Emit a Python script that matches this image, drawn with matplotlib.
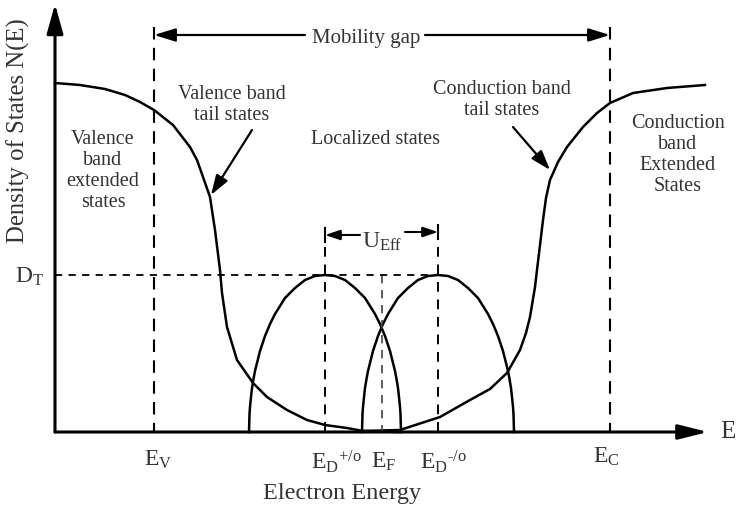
import matplotlib.pyplot as plt

plt.rcParams['font.family'] = ['Liberation Serif', 'DejaVu Serif']
plt.rcParams['mathtext.fontset'] = 'custom'
plt.rcParams['mathtext.rm'] = 'Liberation Serif'
plt.rcParams['mathtext.it'] = 'Liberation Serif:italic'

# energy axis in arbitrary units, density of states in arbitrary units
valence_x = [0, 25, 50, 70, 85, 99, 118, 135, 142, 148, 155, 160, 165, 167,
             172, 182, 198, 212, 232, 252, 270, 292, 308, 345]
valence_y = [349, 347, 343, 337, 330, 322, 307, 285, 272, 255, 235, 202, 162, 139,
             105, 72, 49, 35, 22, 12, 7, 4, 1, 0]

conduction_x = [307, 345, 385, 415, 435, 452, 465, 471, 475, 480, 482, 485, 488,
                491, 495, 503, 512, 528, 542, 555, 578, 612, 650]
conduction_y = [1, 2, 15, 32, 43, 59, 82, 99, 115, 145, 162, 187, 212,
                234, 252, 270, 285, 305, 319, 329, 339, 344, 347]

# defect state bands (offsets from their peak energy)
defect_dx = [-76, -75.5, -75, -74, -73, -71.5, -70, -67.5, -65, -60, -55, -50, -40, -30,
             -20, -10, 0, 10, 20, 30, 40, 50, 55, 60, 65, 67.5, 70, 71.5, 73, 74, 75,
             75.5, 76]
defect_y = [0, 18, 25, 35, 44, 53, 61, 71, 81, 96, 108, 118, 134, 144,
            152, 156, 157, 156, 152, 144, 134, 118, 108, 96, 81, 71, 61, 53, 44, 35, 25,
            18, 0]

E_V = 99
E_D_plus = 270
E_F = 327
E_D_minus = 383
E_C = 555
D_T = 157

TXT = '#333333'

fig = plt.figure(figsize=(7.37, 5.12), dpi=100)
ax = fig.add_axes([0, 0, 1, 1])
ax.set_xlim(-55, 682)
ax.set_ylim(-80, 432)
ax.axis('off')

# curves
ax.plot(valence_x, valence_y, color='k', lw=1.8, solid_joinstyle='round')
ax.plot(conduction_x, conduction_y, color='k', lw=1.8, solid_joinstyle='round')
ax.plot([E_D_plus + d for d in defect_dx], defect_y, color='k', lw=1.8,
        solid_joinstyle='round')
ax.plot([E_D_minus + d for d in defect_dx], defect_y, color='k', lw=1.8,
        solid_joinstyle='round')

# dashed guides
dash_long = (0, (6, 4))
ax.plot([E_V, E_V], [405, 0], color='k', lw=1.5, linestyle=dash_long)
ax.plot([E_C, E_C], [405, 0], color='k', lw=1.5, linestyle=dash_long)
ax.plot([E_D_plus, E_D_plus], [185, 0], color='k', lw=1.4, linestyle=(0, (5, 4)))
ax.plot([E_D_minus, E_D_minus], [185, 0], color='k', lw=1.4, linestyle=(0, (5, 4)))
ax.plot([E_F, E_F], [D_T, 0], color='#444444', lw=1.2, linestyle=(0, (5, 4)))
ax.plot([0, E_D_minus], [D_T, D_T], color='k', lw=1.3, linestyle=(0, (4, 3.5)))

# axes with arrows
ax.annotate('', xy=(0, 428), xytext=(0, 0),
            arrowprops=dict(arrowstyle='-|>,head_length=1.8,head_width=0.5',
                            color='k', lw=2.2, shrinkA=0, shrinkB=0))
ax.annotate('', xy=(653, 0), xytext=(0, 0),
            arrowprops=dict(arrowstyle='-|>,head_length=1.8,head_width=0.45',
                            color='k', lw=2.2, shrinkA=0, shrinkB=0))

# mobility gap arrows
ax.annotate('', xy=(E_V, 397), xytext=(250, 397),
            arrowprops=dict(arrowstyle='-|>,head_length=1.3,head_width=0.4',
                            color='k', lw=1.6, shrinkA=0, shrinkB=0))
ax.annotate('', xy=(E_C, 397), xytext=(370, 397),
            arrowprops=dict(arrowstyle='-|>,head_length=1.3,head_width=0.4',
                            color='k', lw=1.6, shrinkA=0, shrinkB=0))
ax.text(311, 393, 'Mobility gap', fontsize=15, color=TXT, ha='center', va='center')

# U_Eff arrows
ax.annotate('', xy=(E_D_plus, 197), xytext=(305, 197),
            arrowprops=dict(arrowstyle='-|>,head_length=0.9,head_width=0.3',
                            color='k', lw=1.5, shrinkA=0, shrinkB=0))
ax.annotate('', xy=(E_D_minus, 200), xytext=(350, 200),
            arrowprops=dict(arrowstyle='-|>,head_length=0.9,head_width=0.3',
                            color='k', lw=1.5, shrinkA=0, shrinkB=0))
ax.plot([E_D_plus, E_D_plus], [190, 204], color='k', lw=1.5)
ax.plot([E_D_minus, E_D_minus], [193, 207], color='k', lw=1.5)
ax.text(327, 190, r'U$_{\mathrm{Eff}}$', fontsize=17, color=TXT, ha='center', va='center')

# region labels
ax.text(177, 327, 'Valence band\ntail states', fontsize=14.5, color=TXT,
        ha='center', va='center', linespacing=1.15)
ax.annotate('', xy=(156, 237), xytext=(197, 302),
            arrowprops=dict(arrowstyle='-|>,head_length=1.2,head_width=0.4',
                            color='k', lw=1.6, shrinkA=0, shrinkB=0))
ax.text(48, 261, 'Valence\nband\nextended\nstates', fontsize=14.5, color=TXT,
        ha='center', va='center', linespacing=1.15)
ax.text(321, 292, 'Localized states', fontsize=14.5, color=TXT, ha='center', va='center')
ax.text(447, 332, 'Conduction band\ntail states', fontsize=14.5, color=TXT,
        ha='center', va='center', linespacing=1.15)
ax.annotate('', xy=(495, 262), xytext=(458, 305),
            arrowprops=dict(arrowstyle='-|>,head_length=1.2,head_width=0.4',
                            color='k', lw=1.6, shrinkA=0, shrinkB=0))
ax.text(623, 277, 'Conduction\nband\nExtended\nStates', fontsize=14.5, color=TXT,
        ha='center', va='center', linespacing=1.15)

# axis labels
ax.text(-37, 301, 'Density of States N(E)', fontsize=17.8, color=TXT, rotation=90,
        ha='center', va='center')
ax.text(-25, 155, r'D$_{\mathrm{T}}$', fontsize=17, color=TXT, ha='center', va='center')
ax.text(673, 0, 'E', fontsize=18, color=TXT, ha='center', va='center')
ax.text(103, -28, r'E$_{\mathrm{V}}$', fontsize=17, color=TXT, ha='center', va='center')
ax.text(281, -30, r'E$_{\mathrm{D}}{}^{\text{+/o}}$', fontsize=17, color=TXT,
        ha='center', va='center')
ax.text(329, -30, r'E$_{\mathrm{F}}$', fontsize=17, color=TXT, ha='center', va='center')
ax.text(389, -30, r'E$_{\mathrm{D}}{}^{\text{-/o}}$', fontsize=17, color=TXT,
        ha='center', va='center')
ax.text(551, -25, r'E$_{\mathrm{C}}$', fontsize=17, color=TXT, ha='center', va='center')
ax.text(287, -62, 'Electron Energy', fontsize=17.5, color=TXT, ha='center', va='center')

fig.savefig('out.png', dpi=100)
